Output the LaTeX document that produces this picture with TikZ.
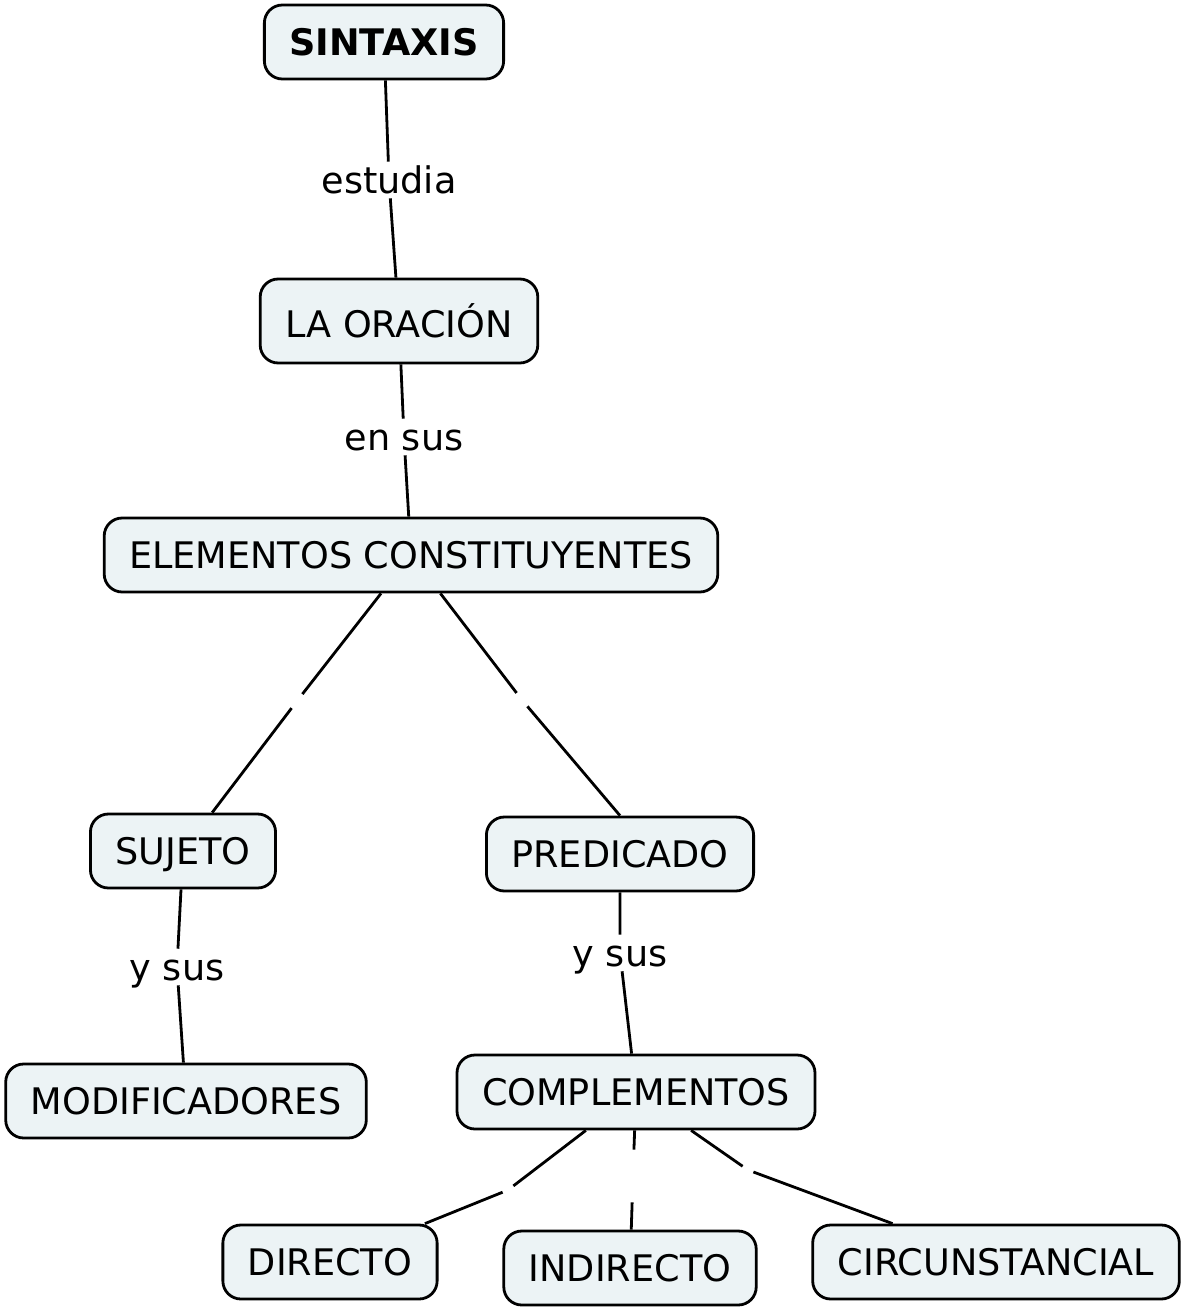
\documentclass[tikz,border=0pt]{standalone}
\usepackage{fontspec}
\setmainfont{DejaVu Sans}
\definecolor{conceptfill}{RGB}{236,243,245}
\tikzset{
  concept/.style={draw=black, line width=1.4pt, fill=conceptfill, rounded corners=9pt,
    inner xsep=12.5pt, minimum height=37pt, text depth=0pt, font=\fontsize{18.3}{22}\selectfont},
  linkphrase/.style={inner sep=2pt, text height=13.9pt, text depth=0pt, font=\fontsize{18.3}{22}\selectfont},
  gap/.style={inner sep=0pt, minimum width=5pt, minimum height=26pt},
  link/.style={line width=1.4pt}
}
\begin{document}
\begin{tikzpicture}[x=0.5pt, y=-0.5pt]
    \useasboundingbox (0,0) rectangle (1188,1311);
    % Concepts
    \node[concept, font=\fontsize{18.3}{22}\selectfont\bfseries] (sintaxis) at (384,42) {SINTAXIS};
    \node[concept, minimum height=42pt, text depth=] (oracion) at (399,321) {LA ORACIÓN};
    \node[concept] (elementos) at (411,555) {ELEMENTOS CONSTITUYENTES};
    \node[concept] (sujeto) at (183,851) {SUJETO};
    \node[concept] (predicado) at (620,854) {PREDICADO};
    \node[concept] (modificadores) at (186,1101) {MODIFICADORES};
    \node[concept] (complementos) at (636,1092) {COMPLEMENTOS};
    \node[concept] (directo) at (330,1262) {DIRECTO};
    \node[concept] (indirecto) at (630,1268) {INDIRECTO};
    \node[concept] (circunstancial) at (996,1262) {CIRCUNSTANCIAL};
    % Linking phrases
    \node[linkphrase] (estudia) at (389,180) {estudia};
    \node[linkphrase] (ensus) at (404,437) {en sus};
    \node[linkphrase] (ysus1) at (177,967) {y sus};
    \node[linkphrase] (ysus2) at (620,953) {y sus};
    % Empty linking phrases
    \node[gap] (g1) at (297,701) {};
    \node[gap] (g2) at (522,700) {};
    \node[gap] (g3) at (508,1190) {};
    \node[gap] (g4) at (633,1176) {};
    \node[gap] (g5) at (748,1170) {};
    % Links
    \draw[link] (sintaxis) -- (estudia) -- (oracion);
    \draw[link] (oracion) -- (ensus) -- (elementos);
    \draw[link] (elementos) -- (g1) -- (sujeto);
    \draw[link] (elementos) -- (g2) -- (predicado.north);
    \draw[link] (sujeto) -- (ysus1) -- (modificadores);
    \draw[link] (predicado) -- (ysus2) -- (complementos);
    \draw[link] (complementos) -- (g3) -- (directo);
    \draw[link] (complementos) -- (g4) -- (indirecto);
    \draw[link] (complementos) -- (g5) -- (circunstancial);
\end{tikzpicture}
\end{document}
